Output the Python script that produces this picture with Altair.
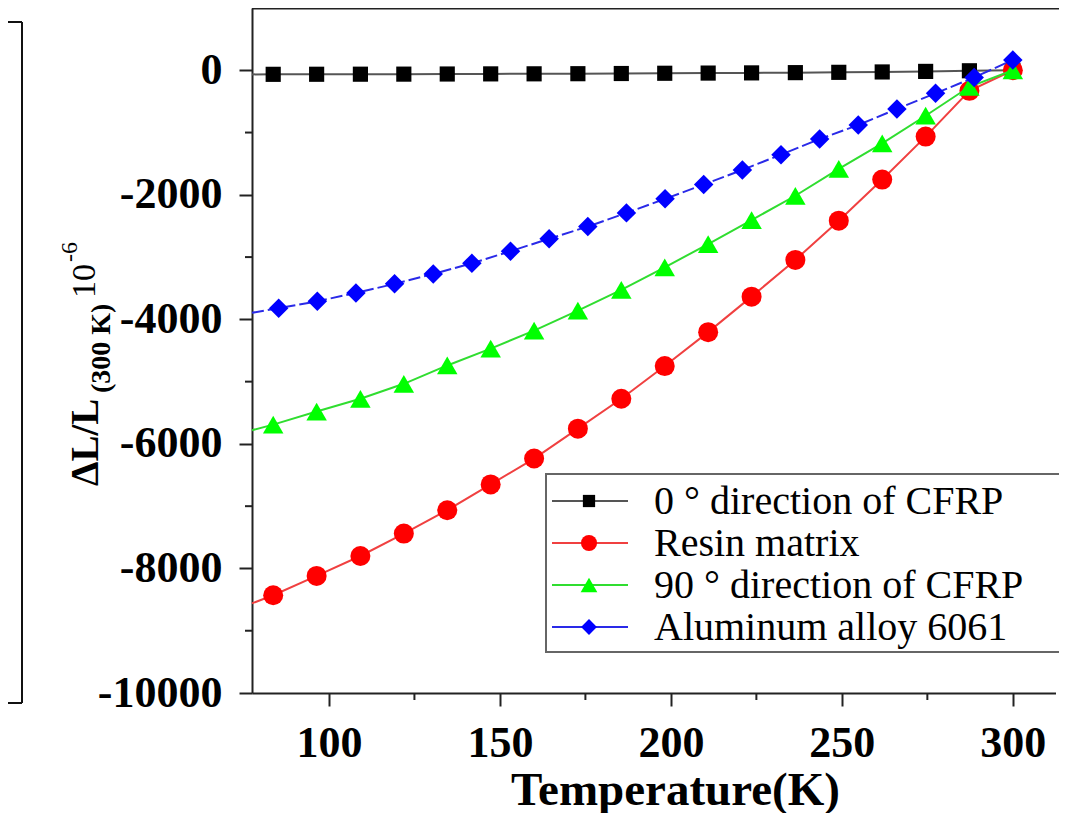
import altair as alt
import pandas as pd

# ---------------- data ----------------
SERIES = ["0 ° direction of CFRP", "Resin matrix", "90 ° direction of CFRP", "Aluminum alloy 6061"]

T_MARK = [83.7, 96.4, 109.2, 121.9, 134.6, 147.3, 160.0, 172.8, 185.5, 198.2,
          210.9, 223.6, 236.4, 249.1, 261.8, 274.5, 287.3, 300.0]
T_AL = [85.3, 96.6, 107.9, 119.2, 130.5, 141.8, 153.1, 164.4, 175.7, 187.0,
        198.3, 209.6, 220.9, 232.2, 243.5, 254.8, 266.1, 277.4, 288.7, 300.0]

CFRP_0 = [-65, -64, -63, -62, -60, -58, -57, -55, -52, -48,
          -45, -42, -38, -33, -27, -18, -8, 0]
RESIN = [-8430, -8120, -7800, -7440, -7065, -6650, -6235, -5755, -5275, -4750,
         -4205, -3635, -3045, -2415, -1755, -1065, -330, 0]
CFRP_90 = [-5690, -5480, -5275, -5035, -4740, -4470, -4180, -3860, -3525, -3165,
           -2790, -2405, -2015, -1585, -1175, -730, -265, 0]
AL6061 = [-3820, -3710, -3575, -3430, -3270, -3100, -2905, -2705, -2510, -2290,
          -2065, -1835, -1600, -1355, -1105, -880, -620, -370, -115, 165]

# the measured curves start at the left edge of the plot (77.5 K)
T_START = 77.5
START_VALUES = [-66, -8560, -5780, -3895]

X_DOMAIN = [77.5, 313.5]
Y_DOMAIN = [-10000, 1000]
X_TICKS = [100, 150, 200, 250, 300]
X_MINOR = [125, 175, 225, 275]
Y_TICKS = [-10000, -8000, -6000, -4000, -2000, 0]
Y_MINOR = [-9000, -7000, -5000, -3000, -1000]

# ---------------- styles ----------------
W, H = 807, 685
LINE_COLORS = ["#555555", "#f04040", "#30dd30", "#2a2ae8"]
MARK_COLORS = ["#000000", "#ff0000", "#00ff00", "#0000ff"]
SHAPES = ["square", "circle", "triangle-up", "diamond"]
SIZES = [230, 400, 420, 380]
LEG_SIZES = [150, 260, 280, 250]
DASHES = [None, None, None, [12, 4]]
SERIF = "Liberation Serif"

xs = alt.Scale(domain=X_DOMAIN, nice=False, zero=False)
ys = alt.Scale(domain=Y_DOMAIN, nice=False, zero=False)

x_axis = alt.Axis(orient="bottom", values=X_TICKS, labelExpr="'' + datum.value",
                  labelPadding=15, tickSize=13, title="Temperature(K)", titleX=423,
                  titleY=111, titleBaseline="alphabetic", titleFontSize=47,
                  titleFont=SERIF, titleFontWeight="bold", titleColor="black")
y_axis = alt.Axis(orient="left", values=Y_TICKS, labelExpr="'' + datum.value",
                  labelPadding=17, tickSize=13, title="")


def X(field):
    return alt.X(field, scale=xs, axis=x_axis)


def Y(field):
    return alt.Y(field, scale=ys, axis=y_axis)


ONE = pd.DataFrame({"a": [0]})

marker_x = [T_MARK, T_MARK, T_MARK, T_AL]
marker_y = [CFRP_0, RESIN, CFRP_90, AL6061]

layers = []
for i, name in enumerate(SERIES):
    line_df = pd.DataFrame({"T": [T_START] + marker_x[i], "v": [START_VALUES[i]] + marker_y[i]})
    pt_df = pd.DataFrame({"T": marker_x[i], "v": marker_y[i]})
    lkw = dict(color=LINE_COLORS[i], strokeWidth=2)
    if DASHES[i] is not None:
        lkw["strokeDash"] = DASHES[i]
    layers.append(alt.Chart(line_df).mark_line(**lkw).encode(x=X("T:Q"), y=Y("v:Q")))
    layers.append(
        alt.Chart(pt_df).mark_point(filled=True, shape=SHAPES[i], size=SIZES[i],
                                    color=MARK_COLORS[i], opacity=1, strokeWidth=0)
        .encode(x=X("T:Q"), y=Y("v:Q"))
    )

# minor ticks
layers.append(
    alt.Chart(pd.DataFrame({"v": Y_MINOR})).mark_rule(color="#222222", strokeWidth=2)
    .encode(y=Y("v:Q"), x=alt.value(-7), x2=alt.value(0))
)
layers.append(
    alt.Chart(pd.DataFrame({"T": X_MINOR})).mark_rule(color="#222222", strokeWidth=2)
    .encode(x=X("T:Q"), y=alt.value(H), y2=alt.value(H + 7))
)

# the plot continues past the right edge of the picture: hide any right-hand frame
layers.append(
    alt.Chart(ONE).mark_rule(color="white", strokeWidth=6)
    .encode(x=alt.value(W), y=alt.value(-2), y2=alt.value(H + 10))
)

# top frame line
layers.append(
    alt.Chart(ONE).mark_rule(color="#222222", strokeWidth=2)
    .encode(x=alt.value(0), x2=alt.value(W + 10), y=alt.value(0.5))
)

# edge of the neighbouring panel on the left
for (bx, bx2, by, by2) in [(-230, -230, 14, 695), (-244, -230, 14, 14), (-244, -230, 695, 695)]:
    layers.append(
        alt.Chart(ONE).mark_rule(color="#111111", strokeWidth=2)
        .encode(x=alt.value(bx), x2=alt.value(bx2), y=alt.value(by), y2=alt.value(by2))
    )

# y-axis title pieces (rotated)
YT_TEXT = ["ΔL/L", "(300 K)", "10", "-6"]
YT_X = [-154, -142, -157, -175]
YT_Y = [478, 385, 290, 254]
YT_FS = [39, 28, 34, 24]
YT_FW = ["bold", "bold", "normal", "normal"]
for k in range(len(YT_TEXT)):
    layers.append(
        alt.Chart(ONE).mark_text(
            text=YT_TEXT[k], angle=270, align="left", baseline="alphabetic", font=SERIF,
            fontSize=YT_FS[k], fontWeight=YT_FW[k], color="black")
        .encode(x=alt.value(YT_X[k]), y=alt.value(YT_Y[k]))
    )

# legend (drawn by hand: line + marker + label per row)
LEG_X, LEG_Y, LEG_DY = 294, 493, 42
layers.append(
    alt.Chart(ONE).mark_rect(fill="white", stroke="#666666", strokeWidth=2)
    .encode(x=alt.value(LEG_X), x2=alt.value(W + 30), y=alt.value(466), y2=alt.value(644))
)
for i, name in enumerate(SERIES):
    ry = LEG_Y + i * LEG_DY
    layers.append(
        alt.Chart(ONE).mark_rule(color=LINE_COLORS[i], strokeWidth=2)
        .encode(x=alt.value(LEG_X + 6), x2=alt.value(LEG_X + 82), y=alt.value(ry))
    )
    layers.append(
        alt.Chart(ONE).mark_point(filled=True, opacity=1, strokeWidth=0, shape=SHAPES[i],
                                  size=LEG_SIZES[i], color=MARK_COLORS[i])
        .encode(x=alt.value(LEG_X + 43), y=alt.value(ry))
    )
    layers.append(
        alt.Chart(ONE).mark_text(text=name, align="left", baseline="middle", font=SERIF,
                                 fontSize=40, color="black", dy=1)
        .encode(x=alt.value(LEG_X + 108), y=alt.value(ry))
    )

chart = (
    alt.layer(*layers)
    .properties(width=W, height=H,
                padding={"left": 244, "top": 0, "right": 0, "bottom": 120},
                autosize=alt.AutoSizeParams(type="none"))
    .configure_view(stroke="transparent", strokeWidth=0, strokeOpacity=0)
    .configure_axis(labelFont=SERIF, labelFontWeight="bold", labelFontSize=44,
                    labelColor="black", domainColor="#222222", domainWidth=2,
                    tickColor="#222222", tickWidth=2, grid=False)
)

chart.save("out.html", embed_options={"renderer": "svg", "actions": False})
